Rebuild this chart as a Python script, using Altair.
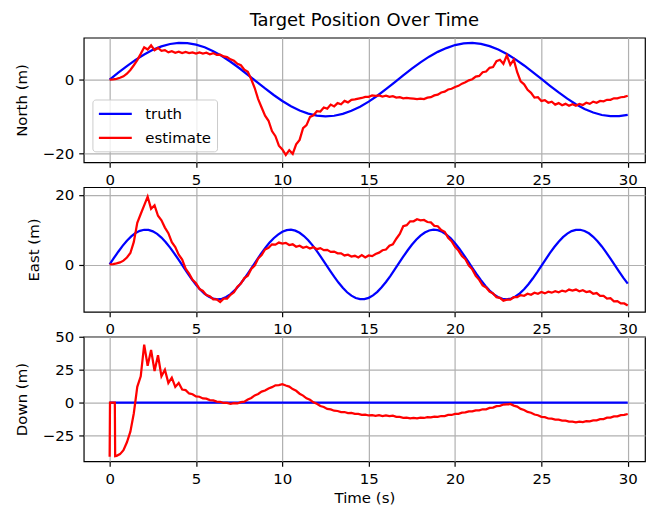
import altair as alt
import pandas as pd

FONT = "DejaVu Sans"

# ---------------- data ----------------
T_TRUTH_N = [round(0.5 * i, 2) for i in range(61)]
NORTH_TRUTH = [0.0, 1.87, 3.67, 5.35, 6.83, 8.08, 9.04, 9.68, 9.98, 9.93,
               9.52, 8.79, 7.73, 6.41, 4.86, 3.15, 1.31, -0.56, -2.42, -4.19,
               -5.82, -7.25, -8.41, -9.27, -9.81, -10.0, -9.84, -9.33, -8.50, -7.37,
               -5.99, -4.39, -2.61, -0.75, 1.13, 2.97, 4.69, 6.23, 7.54, 8.57,
               9.40, 9.87, 9.99, 9.72, 9.11, 8.19, 6.97, 5.50, 3.84, 2.06,
               0.19, -1.68, -3.49, -5.19, -6.70, -7.98, -8.96, -9.64, -9.97, -9.95,
               -9.58]

T_TRUTH_E = [round(0.25 * i, 2) for i in range(121)]
EAST_TRUTH = [0.0, 1.87, 3.67, 5.35, 6.83, 8.08, 9.04, 9.68, 9.98, 9.93,
              9.52, 8.79, 7.73, 6.41, 4.86, 3.15, 1.31, -0.56, -2.42, -4.19,
              -5.82, -7.25, -8.41, -9.27, -9.81, -10.0, -9.84, -9.33, -8.50, -7.37,
              -5.99, -4.39, -2.61, -0.75, 1.13, 2.97, 4.69, 6.23, 7.54, 8.57,
              9.40, 9.87, 9.99, 9.72, 9.11, 8.19, 6.97, 5.50, 3.84, 2.06,
              0.19, -1.68, -3.49, -5.19, -6.70, -7.98, -8.96, -9.64, -9.97, -9.95,
              -9.58, -8.87, -7.85, -6.55, -5.02, -3.32, -1.50, 0.38, 2.24, 4.02,
              5.66, 7.10, 8.29, 9.19, 9.77, 9.99, 9.87, 9.40, 8.59, 7.49,
              6.12, 4.54, 2.79, 0.94, -0.94, -2.79, -4.53, -6.12, -7.48, -8.59,
              -9.40, -9.87, -9.99, -9.77, -9.19, -8.30, -7.10, -5.67, -4.03, -2.25,
              -0.38, 1.49, 3.32, 5.02, 6.55, 7.85, 8.87, 9.58, 9.95, 9.97,
              9.63, 8.96, 7.97, 6.69, 5.18, 3.48, 1.68, -0.19, -2.05, -3.84,
              -5.50]

DOWN_TRUTH = [0.0] * 61

T_EST = [round(0.2 * i, 1) for i in range(151)]
NORTH_EST = [0.0, 0.05, 0.2, 0.5, 0.9,
             1.6, 2.6, 3.9, 5.3, 7.0,
             8.8, 8.2, 9.3, 8.0, 8.6,
             7.8, 8.0, 7.4, 7.7, 7.3,
             7.6, 7.2, 7.5, 7.2, 7.4,
             7.1, 7.4, 7.1, 7.3, 6.9,
             7.2, 6.7, 6.8, 6.3, 6.1,
             5.5, 5.1, 4.3, 3.9, 2.7,
             2.1, 0.1, -2.3, -5.3, -7.6,
             -9.8, -11.2, -14.0, -15.4, -18.0,
             -19.0, -20.5, -19.2, -20.2, -17.6,
             -16.4, -13.2, -12.4, -10.2, -9.7,
             -8.6, -8.7, -7.6, -7.9, -6.8,
             -7.3, -6.4, -6.7, -5.8, -6.2,
             -5.5, -5.4, -5.2, -5.0, -4.7,
             -4.7, -4.3, -4.4, -4.3, -4.6,
             -4.4, -4.7, -4.5, -4.9, -4.8,
             -5.1, -5.0, -5.1, -5.2, -5.3,
             -5.2, -5.3, -4.9, -4.8, -4.3,
             -4.1, -3.5, -3.3, -2.7, -2.5,
             -2.0, -1.7, -1.1, -0.7, -0.2,
             0.1, 0.8, 1.0, 2.0, 2.2,
             3.2, 3.4, 5.0, 5.4, 4.3,
             6.6, 4.0, 5.4, 2.0, -0.5,
             -1.3, -2.8, -3.6, -4.9, -4.8,
             -5.8, -5.6, -6.3, -6.0, -6.8,
             -6.4, -7.0, -6.6, -7.1, -6.7,
             -7.1, -6.6, -6.9, -6.3, -6.6,
             -6.0, -6.3, -5.8, -5.9, -5.5,
             -5.5, -5.1, -5.1, -4.8, -4.7,
             -4.4]

EAST_EST = [0.0, 0.1, 0.3, 0.6, 1.1,
            2.0, 3.3, 6.5, 12.0, 14.5,
            17.0, 19.5, 16.0, 17.0, 14.0,
            12.7, 10.6, 9.0, 6.4, 5.0,
            2.8, 1.4, -1.2, -2.6, -4.4,
            -5.4, -7.0, -7.6, -8.8, -9.1,
            -10.0, -10.0, -10.8, -9.8, -9.8,
            -8.7, -8.0, -6.4, -5.5, -3.9,
            -3.2, -1.3, -0.3, 1.7, 2.7,
            4.3, 4.8, 5.8, 5.7, 6.3,
            6.0, 6.2, 5.6, 5.8, 5.1,
            5.4, 4.8, 5.1, 4.6, 5.0,
            4.4, 4.7, 4.1, 4.2, 3.6,
            3.7, 3.2, 3.2, 2.6, 2.8,
            2.3, 2.5, 2.0, 2.7, 2.0,
            2.6, 2.4, 3.0, 3.4, 4.1,
            4.3, 5.4, 5.8, 7.4, 8.8,
            11.0, 11.3, 12.4, 12.4, 13.0,
            12.7, 12.8, 12.2, 12.1, 11.1,
            11.0, 9.9, 9.4, 7.7, 6.7,
            5.1, 4.0, 2.4, 1.5, -0.3,
            -1.4, -3.3, -4.4, -6.0, -6.6,
            -7.8, -8.3, -9.4, -9.6, -10.4,
            -10.1, -10.1, -9.4, -9.4, -8.8,
            -9.0, -8.4, -8.7, -8.1, -8.4,
            -7.9, -8.3, -7.8, -8.1, -7.7,
            -8.0, -7.5, -7.8, -7.2, -7.5,
            -7.2, -7.7, -7.4, -7.9, -7.7,
            -8.4, -8.2, -9.0, -9.0, -9.8,
            -9.7, -10.6, -10.5, -11.2, -11.2,
            -11.8]

T_DOWN_EST = [0.0, 0.02, 0.3, 0.32] + [round(0.4 + 0.2 * i, 1) for i in range(149)]
DOWN_EST = [-41.0, 0.0, 0.0, -40.5,
            -40.3, -39.0, -36.0,
            -30.0, -22.0, -8.0, 12.0, 20.0,
            44.0, 28.0, 40.0, 24.0, 36.0,
            20.0, 25.0, 15.0, 19.0, 12.0,
            15.0, 10.0, 9.5, 7.0, 6.4,
            4.7, 4.5, 3.2, 3.0, 2.0,
            1.7, 0.8, 0.6, -0.2, -0.2,
            -0.8, -0.4, -0.6, 0.4, 0.8,
            2.4, 3.6, 5.5, 6.6, 8.4,
            9.2, 10.8, 11.8, 13.2, 13.3,
            14.0, 13.0, 12.2, 10.3, 9.0,
            6.8, 5.4, 3.3, 2.2, 0.3,
            -0.8, -2.5, -3.3, -4.7, -5.1,
            -6.1, -6.3, -7.2, -7.1, -7.9,
            -7.8, -8.5, -8.5, -9.2, -9.1,
            -9.7, -9.5, -10.0, -9.5, -10.1,
            -9.6, -10.2, -9.9, -10.8, -10.8,
            -11.5, -11.3, -11.9, -11.6, -11.9,
            -11.4, -11.6, -11.0, -11.2, -10.6,
            -10.8, -10.1, -10.1, -9.3, -9.3,
            -8.5, -8.4, -7.5, -7.4, -6.6,
            -6.6, -5.8, -5.8, -5.0, -5.0,
            -4.0, -3.7, -2.6, -2.4, -1.4,
            -1.2, -1.0, -2.2, -3.0, -4.7,
            -5.5, -7.0, -7.6, -9.0, -9.5,
            -10.7, -11.0, -12.0, -12.1, -12.9,
            -12.8, -13.6, -13.6, -14.4, -14.3,
            -14.9, -14.4, -14.7, -14.0, -14.1,
            -13.4, -13.4, -12.5, -12.4, -11.4,
            -11.3, -10.4, -10.3, -9.4, -9.3,
            -8.6]

SERIES = ["truth", "estimate"]
COLORS = ["#0000ff", "#ff0000"]
X_TICKS = [0, 5, 10, 15, 20, 25, 30]


def frame(t, v, name):
    return pd.DataFrame({"t": t, "v": v, "series": name})


def panel(t_truth, truth, t_est, est, ytitle, ydomain, yticks, legend, xtitle):
    x = alt.X("t:Q", scale=alt.Scale(domain=[-1.5, 31.0], nice=False, zero=False),
              axis=alt.Axis(values=X_TICKS, grid=True, title=xtitle, titlePadding=4))
    y = alt.Y("v:Q", scale=alt.Scale(domain=ydomain, nice=False, zero=False),
              axis=alt.Axis(values=yticks, grid=True, title=ytitle, titlePadding=13))
    if legend:
        leg = alt.Legend(title=None, orient="none", legendX=8.7, legendY=62,
                         symbolType="M-1,0H3.125", symbolSize=256,
                         symbolStrokeWidth=2.25,
                         labelFont=FONT, labelFontSize=15, labelColor="black",
                         labelOffset=29, fillColor="rgba(255,255,255,0.8)",
                         strokeColor="#cccccc", cornerRadius=3, padding=5,
                         rowPadding=6)
    else:
        leg = None
    color = alt.Color("series:N", scale=alt.Scale(domain=SERIES, range=COLORS),
                      legend=leg)
    a = alt.Chart(frame(t_truth, truth, "truth")).mark_line(strokeWidth=2.25, clip=True).encode(
        x=x, y=y, color=color)
    b = alt.Chart(frame(t_est, est, "estimate")).mark_line(strokeWidth=2.25, clip=True).encode(
        x=x, y=y, color=color)
    return alt.layer(a, b).properties(width=563, height=125)


p1 = panel(T_TRUTH_N, NORTH_TRUTH, T_EST, NORTH_EST, "North (m)",
           [-22.5, 11.4], [-20, 0], True, None).properties(
    title=alt.TitleParams("Target Position Over Time", font=FONT, fontSize=18,
                          fontWeight="normal", color="black", offset=8, anchor="middle"))
p2 = panel(T_TRUTH_E, EAST_TRUTH, T_EST, EAST_EST, "East (m)",
           [-13.6, 22.2], [0, 20], False, None)
p3 = panel(T_TRUTH_N, DOWN_TRUTH, T_DOWN_EST, DOWN_EST, "Down (m)",
           [-44.5, 50.0], [-25, 0, 25, 50], False, "Time (s)")

chart = alt.vconcat(p1, p2, p3, spacing=25, bounds="flush").resolve_scale(
    color="independent"
).properties(
    padding={"left": 13, "top": 10, "right": 0, "bottom": 7}
).configure_view(
    stroke="black", strokeWidth=1.2
).configure_axis(
    domain=False, tickColor="black", tickSize=5, tickWidth=1.2,
    labelFont=FONT, labelFontSize=15, labelColor="black", labelPadding=5,
    gridColor="#b0b0b0", gridWidth=1.2,
    titleFont=FONT, titleFontSize=15, titleFontWeight="normal", titleColor="black"
)

chart.save("out.html", embed_options={"renderer": "svg", "actions": False})
